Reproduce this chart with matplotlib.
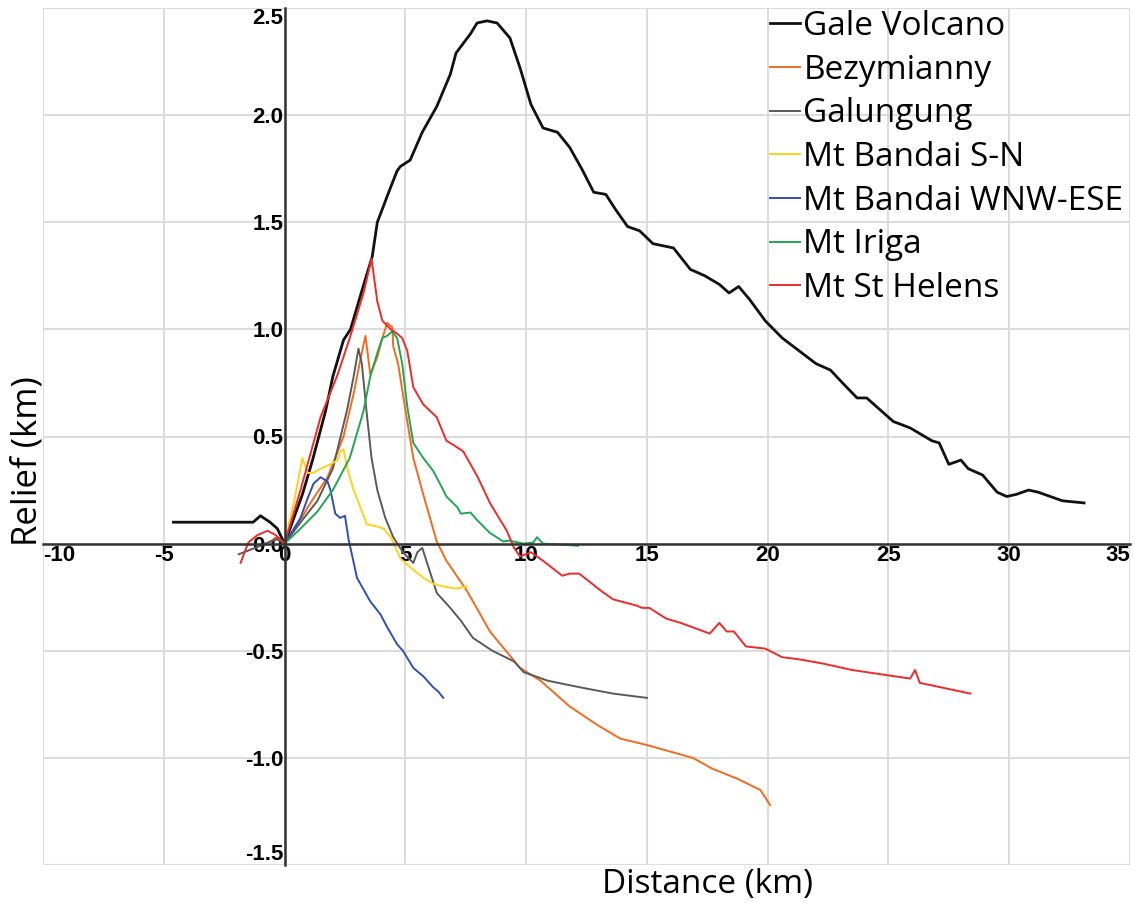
import numpy as np
import matplotlib
matplotlib.use("Agg")
import matplotlib.pyplot as plt

plt.rcParams["axes.unicode_minus"] = False

# relief profiles: distance (km) vs relief (km)
gale_x = [-4.6, -1.3, -1.0, -0.6, -0.3, 0, 0.74, 1.16, 1.7, 2.0, 2.44, 2.73, 3.2, 3.63, 3.84,
          4.38, 4.66, 4.79, 5.2, 5.7, 6.3, 6.86, 7.1, 7.7, 7.97, 8.38, 8.8, 9.33, 9.75, 10.2,
          10.7, 11.3, 11.8, 12.3, 12.8, 13.3, 13.7, 14.2, 14.7, 15.25, 16.1, 16.8, 17.4, 18.0,
          18.4, 18.8, 19.25, 19.9, 20.6, 21.3, 22.0, 22.6, 23.1, 23.7, 24.1, 24.6, 25.2, 25.9,
          26.8, 27.1, 27.5, 28.0, 28.3, 28.9, 29.5, 29.9, 30.3, 30.8, 31.2, 31.7, 32.2, 33.1]
gale_y = [0.10, 0.10, 0.13, 0.10, 0.07, 0.0, 0.23, 0.39, 0.62, 0.78, 0.95, 1.0, 1.18, 1.34, 1.5,
          1.66, 1.74, 1.76, 1.79, 1.92, 2.04, 2.19, 2.29, 2.38, 2.43, 2.44, 2.43, 2.36, 2.22, 2.05,
          1.94, 1.92, 1.85, 1.75, 1.64, 1.63, 1.56, 1.48, 1.46, 1.40, 1.38, 1.28, 1.25, 1.21,
          1.17, 1.20, 1.14, 1.04, 0.96, 0.90, 0.84, 0.81, 0.75, 0.68, 0.68, 0.63, 0.57, 0.54,
          0.48, 0.47, 0.37, 0.39, 0.35, 0.32, 0.24, 0.22, 0.23, 0.25, 0.24, 0.22, 0.20, 0.19]

bezy_x = [-0.6, -0.3, 0, 0.5, 1.07, 1.78, 2.44, 2.86, 3.14, 3.35, 3.55, 3.84, 4.05, 4.25, 4.46,
          4.5, 4.7, 5.08, 5.33, 5.74, 6.3, 6.7, 7.55, 8.5, 9.75, 10.6, 11.8, 13.0, 13.9, 15.0,
          16.9, 17.7, 18.8, 19.7, 20.1]
bezy_y = [0.01, 0.03, 0.0, 0.08, 0.19, 0.31, 0.5, 0.7, 0.86, 0.97, 0.79, 0.87, 0.96, 1.03, 1.01,
          0.92, 0.84, 0.57, 0.40, 0.23, 0.01, -0.08, -0.22, -0.41, -0.58, -0.64, -0.76, -0.85,
          -0.91, -0.94, -1.00, -1.05, -1.10, -1.15, -1.22]

galu_x = [-1.9, -1.0, -0.7, -0.3, 0, 0.6, 1.36, 2.0, 2.6, 2.86, 3.06, 3.2, 3.4, 3.6, 3.84, 4.17,
          4.5, 4.9, 5.33, 5.5, 5.7, 5.9, 6.3, 6.86, 7.3, 7.8, 8.6, 9.5, 9.9, 10.9, 12.2, 13.6,
          14.3, 15.0]
galu_y = [-0.05, -0.01, 0.005, 0.02, 0.0, 0.09, 0.2, 0.35, 0.63, 0.78, 0.91, 0.84, 0.61, 0.40,
          0.25, 0.12, 0.03, -0.04, -0.09, -0.04, -0.02, -0.09, -0.23, -0.30, -0.36, -0.44, -0.50,
          -0.55, -0.60, -0.64, -0.67, -0.70, -0.71, -0.72]

bsn_x = [0, 0.4, 0.74, 0.95, 1.2, 1.49, 1.9, 2.2, 2.3, 2.44, 2.6, 2.86, 3.14, 3.4, 3.84, 4.1,
         4.4, 4.8, 5.2, 5.75, 6.2, 6.6, 7.1, 7.55]
bsn_y = [0.0, 0.2, 0.40, 0.33, 0.33, 0.35, 0.37, 0.39, 0.43, 0.44, 0.35, 0.25, 0.17, 0.09, 0.08,
         0.07, 0.03, -0.07, -0.11, -0.16, -0.19, -0.20, -0.21, -0.20]

bwe_x = [0, 0.66, 0.95, 1.2, 1.49, 1.78, 1.9, 2.1, 2.3, 2.5, 2.65, 3.0, 3.55, 3.97, 4.25, 4.66,
         4.9, 5.33, 5.75, 6.15, 6.36, 6.57]
bwe_y = [0, 0.12, 0.21, 0.28, 0.31, 0.29, 0.25, 0.14, 0.12, 0.13, 0.02, -0.16, -0.27, -0.33,
         -0.39, -0.47, -0.50, -0.58, -0.62, -0.67, -0.69, -0.72]

iriga_x = [0, 0.66, 1.36, 2.0, 2.7, 3.27, 3.55, 3.84, 4.05, 4.25, 4.45, 4.66, 4.87, 5.08, 5.33,
           5.74, 6.15, 6.57, 6.7, 7.15, 7.3, 7.7, 7.97, 8.5, 9.05, 9.3, 9.9, 10.3, 10.45, 10.7,
           11.5, 12.15]
iriga_y = [0, 0.07, 0.15, 0.25, 0.40, 0.62, 0.78, 0.89, 0.96, 0.97, 0.99, 0.96, 0.84, 0.64, 0.47,
           0.40, 0.34, 0.25, 0.22, 0.17, 0.14, 0.145, 0.11, 0.05, 0.01, 0.014, 0.0, 0.005, 0.03,
           0.0, -0.005, -0.01]

helens_x = [-1.82, -1.5, -1.12, -0.7, -0.37, 0, 0.66, 1.49, 2.2, 2.7, 3.27, 3.6, 3.84, 4.05, 4.4,
            4.66, 4.87, 5.08, 5.33, 5.74, 6.3, 6.7, 7.0, 7.4, 8.0, 8.5, 9.2, 9.5, 9.75, 10.2,
            10.7, 11.5, 11.8, 12.2, 13.1, 13.6, 14.6, 14.8, 15.1, 15.8, 16.4, 17.6, 18.0, 18.3,
            18.6, 19.1, 19.9, 20.6, 21.3, 22.3, 23.5, 24.7, 25.9, 26.1, 26.3, 28.4]
helens_y = [-0.09, 0.005, 0.04, 0.06, 0.04, 0.0, 0.25, 0.59, 0.79, 0.96, 1.17, 1.33, 1.13, 1.04,
            1.0, 0.98, 0.96, 0.90, 0.73, 0.65, 0.59, 0.48, 0.46, 0.43, 0.31, 0.19, 0.06, -0.02,
            -0.06, -0.04, -0.08, -0.15, -0.14, -0.14, -0.22, -0.26, -0.29, -0.30, -0.30, -0.35,
            -0.37, -0.42, -0.37, -0.41, -0.41, -0.48, -0.49, -0.53, -0.54, -0.56, -0.59, -0.61,
            -0.63, -0.59, -0.65, -0.70]

x_ticks = [-10, -5, 0, 5, 10, 15, 20, 25, 30, 35]
y_ticks = [-1.5, -1.0, -0.5, 0.0, 0.5, 1.0, 1.5, 2.0, 2.5]

series = [
    ("Gale Volcano", gale_x, gale_y, "#111111", 2.0),
    ("Bezymianny", bezy_x, bezy_y, "#F26B1D", 1.4),
    ("Galungung", galu_x, galu_y, "#5a5a5a", 1.4),
    ("Mt Bandai S-N", bsn_x, bsn_y, "#FFD21A", 1.4),
    ("Mt Bandai WNW-ESE", bwe_x, bwe_y, "#2F50B0", 1.4),
    ("Mt Iriga", iriga_x, iriga_y, "#22A652", 1.4),
    ("Mt St Helens", helens_x, helens_y, "#EE2A2A", 1.4),
]

fig = plt.figure(figsize=(11.35, 9.06), dpi=100)
ax = fig.add_axes([43 / 1135, 41 / 906, 1087 / 1135, 857 / 906])

for name, xs, ys, col, lw in series:
    ax.plot(xs, ys, color=col, lw=lw, label=name)

ax.set_xlim(-10, 35)
ax.set_ylim(-1.5, 2.5)
ax.set_xticks(x_ticks)
ax.set_xticklabels([str(v) for v in x_ticks])
ax.set_yticks(y_ticks)
ax.set_yticklabels([f"{v:.1f}" for v in y_ticks])
ax.grid(True, color="#dcdcdc", lw=1.5)
ax.set_axisbelow(True)

# axes cross at the origin
ax.spines["left"].set_position(("data", 0))
ax.spines["bottom"].set_position(("data", 0))
ax.spines["top"].set_visible(False)
ax.spines["right"].set_visible(False)
for s in ("left", "bottom"):
    ax.spines[s].set_color("#333333")
    ax.spines[s].set_linewidth(1.8)

ax.tick_params(length=0, pad=1)
for lab in ax.get_xticklabels() + ax.get_yticklabels():
    lab.set_fontfamily("Liberation Sans")
    lab.set_fontweight("bold")
    lab.set_fontsize(16)

# keep the end labels inside the plotting area
xl = ax.get_xticklabels()
xl[0].set_horizontalalignment("left")
xl[-1].set_horizontalalignment("right")
yl = ax.get_yticklabels()
yl[0].set_verticalalignment("bottom")
yl[-1].set_verticalalignment("top")

fig.text(28 / 1135, 1 - 461 / 906, "Relief (km)", rotation=90, ha="center", va="center",
         family="Open Sans", size=25)
fig.text(708 / 1135, 1 - 885 / 906, "Distance (km)", ha="center", va="center",
         family="Open Sans", size=24)

ax.legend(loc="upper left", bbox_to_anchor=(770 / 1135, 1 - 10 / 906),
          bbox_transform=fig.transFigure, frameon=False,
          prop=dict(family="Open Sans", size=24), handlelength=0.9,
          handletextpad=0.1, labelspacing=0.32, borderpad=0, borderaxespad=0)

fig.savefig("out.png", dpi=100)
